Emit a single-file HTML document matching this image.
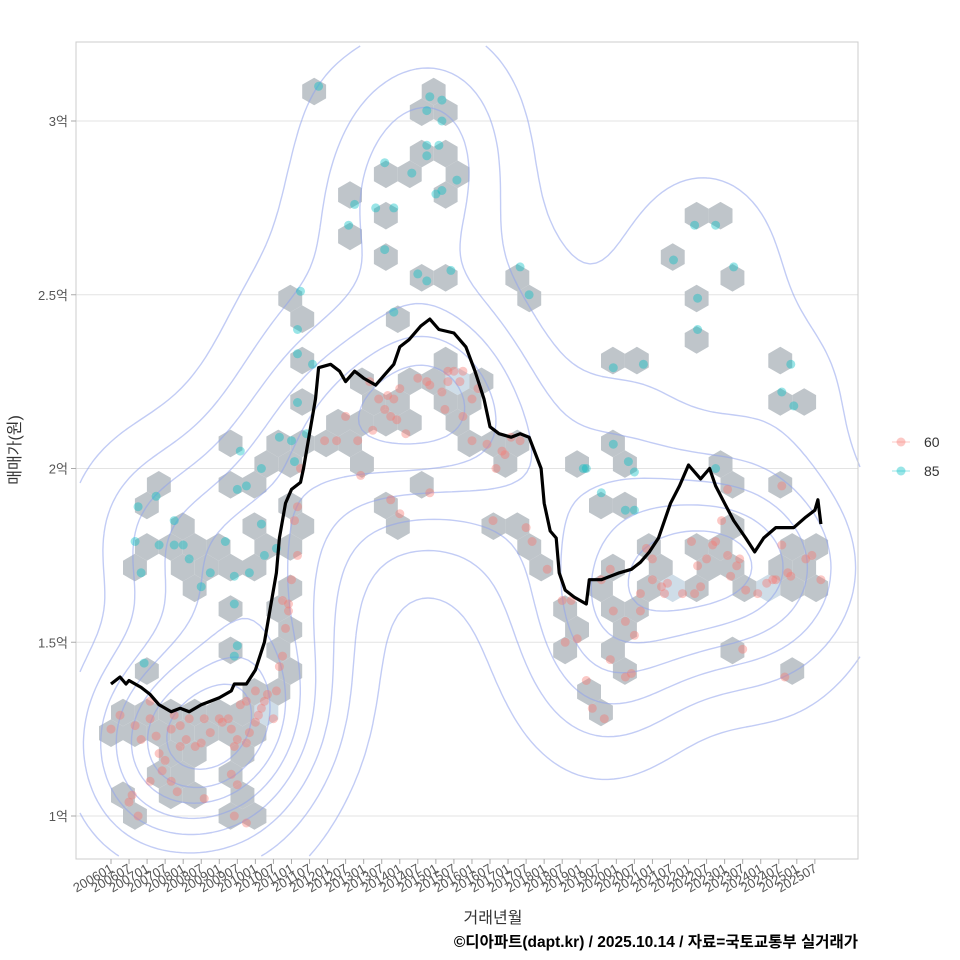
<!DOCTYPE html>
<html><head><meta charset="utf-8"><style>
body{margin:0;background:#fff;}
svg{display:block;font-family:"Liberation Sans","Noto Sans CJK KR",sans-serif;}
</style></head><body>
<svg id="chart" width="960" height="960" viewBox="0 0 960 960">
<rect x="0" y="0" width="960" height="960" fill="#fff"/>
<g id="grid"></g>
<g id="hexes"></g>
<g id="contours"></g>
<g id="points"></g>
<g id="line"></g>
<rect x="76" y="42" width="782" height="817" fill="none" stroke="#ccc" stroke-width="1"/>
<g id="axes"></g>
<text x="493" y="923" font-size="16" fill="#333" text-anchor="middle">거래년월</text>
<text x="0" y="0" font-size="16" fill="#333" text-anchor="middle" transform="translate(20,450) rotate(-90)">매매가(원)</text>
<text x="858" y="947" font-size="15.5" font-weight="bold" fill="#000" text-anchor="end">©디아파트(dapt.kr) / 2025.10.14 / 자료=국토교통부 실거래가</text>
<g>
<g><line x1="892" y1="442" x2="910" y2="442" stroke="#F8766D" stroke-opacity="0.4"/><circle cx="901" cy="442" r="4.5" fill="#F8766D" fill-opacity="0.4"/><text x="924" y="447" font-size="14" fill="#333">60</text></g>
<g><line x1="892" y1="471" x2="910" y2="471" stroke="#00BFC4" stroke-opacity="0.4"/><circle cx="901" cy="471" r="4.5" fill="#00BFC4" fill-opacity="0.4"/><text x="924" y="476" font-size="14" fill="#333">85</text></g>
</g>
</svg>
<script>
// ---- data ----
const yTicks=[1,1.5,2,2.5,3];
const yTickLabels=["1억","1.5억","2억","2.5억","3억"];
const xTickLabels=[];
for(let y=2006;y<=2025;y++){xTickLabels.push(y+"01");xTickLabels.push(y+"07");}
const lineMonths=[0,3,5,6,10,13,16,20,23,26,30,33,36,40,41,45,48,51,53,55,56,58,60,63,64,66,68,69,73,76,78,81,84,88,91,94,96,99,103,106,109,114,118,121,124,126,129,133,136,139,143,144,146,148,149,151,154,158,159,163,166,169,173,176,179,182,186,189,192,196,199,201,204,207,211,214,217,221,224,227,231,234,235,236];
const lineValues=[1.38,1.40,1.38,1.39,1.37,1.35,1.32,1.30,1.31,1.30,1.32,1.33,1.34,1.36,1.38,1.38,1.42,1.50,1.60,1.70,1.80,1.90,1.94,1.96,2.00,2.10,2.20,2.29,2.30,2.28,2.25,2.28,2.26,2.24,2.27,2.30,2.35,2.37,2.41,2.43,2.40,2.39,2.35,2.28,2.20,2.12,2.10,2.09,2.10,2.09,2.00,1.90,1.82,1.80,1.70,1.65,1.63,1.61,1.68,1.68,1.69,1.70,1.71,1.73,1.76,1.80,1.90,1.95,2.01,1.97,2.00,1.95,1.90,1.85,1.80,1.76,1.80,1.83,1.83,1.83,1.86,1.88,1.91,1.84];
const tealMonths=[69,106,110,105,110,105,109,105,91,100,110,108,115,79,81,88,94,91,102,105,113,63,94,62,62,67,62,56,60,65,61,50,43,45,42,50,55,51,46,41,38,33,26,21,24,16,21,15,9,10,8,11,30,41,42,41,136,139,158,157,167,172,174,163,171,174,167,177,187,194,201,195,195,207,223,227,226,201];
const tealValues=[3.10,3.07,3.06,3.03,3.00,2.93,2.93,2.90,2.88,2.85,2.80,2.79,2.83,2.70,2.76,2.75,2.75,2.63,2.56,2.54,2.57,2.51,2.45,2.40,2.33,2.30,2.19,2.09,2.08,2.10,2.02,2.00,2.05,1.95,1.94,1.84,1.77,1.75,1.70,1.69,1.79,1.70,1.74,1.78,1.78,1.78,1.85,1.92,1.89,1.70,1.79,1.44,1.66,1.61,1.49,1.46,2.58,2.50,2.00,2.00,2.07,2.02,1.99,1.93,1.88,1.88,2.29,2.30,2.60,2.70,2.70,2.49,2.40,2.58,2.22,2.18,2.30,2.00];
const redMonths=[0,3,8,10,13,15,16,18,20,21,23,25,26,28,30,31,33,36,39,40,42,45,46,48,49,50,51,52,48,45,55,56,54,41,40,42,20,22,17,13,7,6,9,31,41,45,37,23,13,43,57,58,59,57,60,61,62,63,59,62,71,75,78,82,83,87,89,91,93,95,94,92,86,96,98,105,106,102,110,112,112,114,116,117,117,120,122,106,93,96,120,125,111,128,133,130,136,138,140,127,131,145,153,151,155,158,160,164,166,167,171,171,173,174,166,163,176,178,180,180,183,185,190,194,196,198,200,201,193,203,205,206,208,209,211,215,218,220,221,223,225,226,231,233,236,224,195,184,176,150,210,205,223];
const redValues=[1.25,1.29,1.26,1.22,1.28,1.23,1.18,1.16,1.25,1.29,1.26,1.22,1.28,1.20,1.21,1.28,1.24,1.28,1.28,1.25,1.22,1.21,1.24,1.27,1.29,1.31,1.33,1.35,1.36,1.33,1.36,1.43,1.28,1.20,1.12,1.09,1.10,1.07,1.13,1.10,1.06,1.04,1.00,1.05,1.00,0.98,1.27,1.20,1.33,1.32,1.46,1.54,1.61,1.62,1.68,1.85,1.89,2.00,1.59,1.75,2.08,2.08,2.15,2.08,1.98,2.11,2.20,2.17,2.15,2.14,2.20,2.21,2.25,2.23,2.10,2.25,2.24,2.26,2.22,2.25,2.28,2.28,2.25,2.28,2.15,2.20,2.23,1.93,1.91,1.87,2.08,2.07,2.17,2.00,2.09,2.05,2.08,1.83,1.79,1.85,2.04,1.71,1.62,1.50,1.51,1.39,1.31,1.28,1.45,1.59,1.56,1.40,1.41,1.52,1.71,1.68,1.64,1.77,1.74,1.68,1.66,1.67,1.64,1.64,1.66,1.74,1.78,1.79,1.79,1.85,1.75,1.69,1.72,1.74,1.65,1.64,1.67,1.68,1.68,1.78,1.70,1.69,1.74,1.75,1.68,1.40,1.72,1.64,1.59,1.62,1.48,1.94,1.95];

// ---- scales ----
const X=m=>111+m*3.008;
const Y=v=>816-(v-1)*347.5;
const NS="http://www.w3.org/2000/svg";
function mk(tag,attrs,parent){const e=document.createElementNS(NS,tag);for(const k in attrs)e.setAttribute(k,attrs[k]);parent.appendChild(e);return e;}
const grid=document.getElementById('grid'),axes=document.getElementById('axes');

yTicks.forEach((t,i)=>{
  const g=mk('line',{x1:76,x2:858,y1:Y(t),y2:Y(t),stroke:'#e3e3e3','stroke-width':1},grid);
  
  
  const tk=mk('line',{x1:71,x2:76,y1:Y(t),y2:Y(t),stroke:'#aaa'},axes);
  
  
  const tx=mk('text',{x:68,y:Y(t)+5,'font-size':13,fill:'#555','text-anchor':'end'},axes);
  tx.textContent=yTickLabels[i];
  
  
});
xTickLabels.forEach((lab,i)=>{
  const x=X(i*6);
  const tk=mk('line',{x1:x,x2:x,y1:859,y2:864,stroke:'#aaa'},axes);
  
  
  const tx=mk('text',{x:0,y:0,'font-size':13,fill:'#555','text-anchor':'end',transform:`translate(${x+3},${871}) rotate(-30)`},axes);
  tx.textContent=lab;
  
  
});

// ---- points ----
const pts=[];
tealMonths.forEach((m,i)=>pts.push({x:X(m),y:Y(tealValues[i]),c:'#00BFC4'}));
redMonths.forEach((m,i)=>pts.push({x:X(m),y:Y(redValues[i]),c:'#F8766D'}));

// ---- hexbin ----
const R=13.8,HW=Math.sqrt(3)*R,RS=1.5*R,X0=111,Y0=816;
const bins={};
pts.forEach(p=>{
  let best=null,bd=1e9;
  const j0=Math.round((p.y-Y0)/RS);
  for(let j=j0-1;j<=j0+1;j++){
    const off=(Math.abs(j)%2)?HW/2:0;
    const i0=Math.round((p.x-X0-off)/HW);
    for(let i=i0-1;i<=i0+1;i++){
      const cx=X0+i*HW+off,cy=Y0+j*RS,d=(cx-p.x)**2+(cy-p.y)**2;
      if(d<bd){bd=d;best={cx,cy,k:i+','+j};}
    }
  }
  if(!bins[best.k])bins[best.k]={cx:best.cx,cy:best.cy,n:0};
  bins[best.k].n++;
});
const hexG=document.getElementById('hexes');
Object.values(bins).forEach(b=>{
  let d='';
  for(let a=0;a<6;a++){const t=Math.PI/180*(60*a-90);d+=(a?'L':'M')+(b.cx+R*Math.cos(t)).toFixed(1)+','+(b.cy+R*Math.sin(t)).toFixed(1);}
  const h=mk('path',{d:d+'Z',fill:b.n>=4?'#cfdde8':'#bfc5ca'},hexG);
  
  
});

// ---- KDE contours ----
const sx=55,sy=62,step=6,gx0=80,gy0=46,nx=Math.ceil(776/step),ny=Math.ceil(810/step);
const D=[];let mx=0;
for(let j=0;j<=ny;j++){D[j]=[];for(let i=0;i<=nx;i++){
  const x=gx0+i*step,y=gy0+j*step;let s=0;
  for(const p of pts){const dx=(x-p.x)/sx,dy=(y-p.y)/sy;s+=Math.exp(-0.5*(dx*dx+dy*dy));}
  D[j][i]=s;if(s>mx)mx=s;}}
const levels=[0.07,0.17,0.28,0.4,0.52,0.64,0.76,0.88].map(f=>f*mx);
const cG=document.getElementById('contours');
const P=[[0,0],[1,0],[1,1],[0,1]];
levels.forEach(L=>{
  let d='';
  for(let j=0;j<ny;j++){
    for(let i=0;i<nx;i++){
      const v=[D[j][i],D[j][i+1],D[j+1][i+1],D[j+1][i]];
      const e=[];
      for(let k=0;k<4;k++){
        const a=v[k],b=v[(k+1)%4];
        if((a<L)!==(b<L)){
          const t=(L-a)/(b-a);const pa=P[k],pb=P[(k+1)%4];
          e.push([gx0+(i+pa[0]+(pb[0]-pa[0])*t)*step,gy0+(j+pa[1]+(pb[1]-pa[1])*t)*step]);
        }
      }
      for(let k=0;k+1<e.length;k+=2){
        d+='M'+e[k][0].toFixed(1)+','+e[k][1].toFixed(1)+'L'+e[k+1][0].toFixed(1)+','+e[k+1][1].toFixed(1);
      }
    }
  }
  const c=mk('path',{d:d,fill:'none',stroke:'#8fa3ec','stroke-opacity':0.55,'stroke-width':1.4},cG);
  
  
});

// ---- points ----
const pG=document.getElementById('points');
pts.forEach(p=>{
  const c=mk('circle',{cx:p.x.toFixed(1),cy:p.y.toFixed(1),r:4.5,fill:p.c,'fill-opacity':0.4},pG);
  
  
});

// ---- line ----
const ld=lineMonths.map((m,i)=>(i?'L':'M')+X(m).toFixed(1)+','+Y(lineValues[i]).toFixed(1)).join('');
const ln=mk('path',{d:ld,fill:'none',stroke:'#000','stroke-width':3.2,'stroke-linejoin':'round'},document.getElementById('line'));


</script>
</body></html>
